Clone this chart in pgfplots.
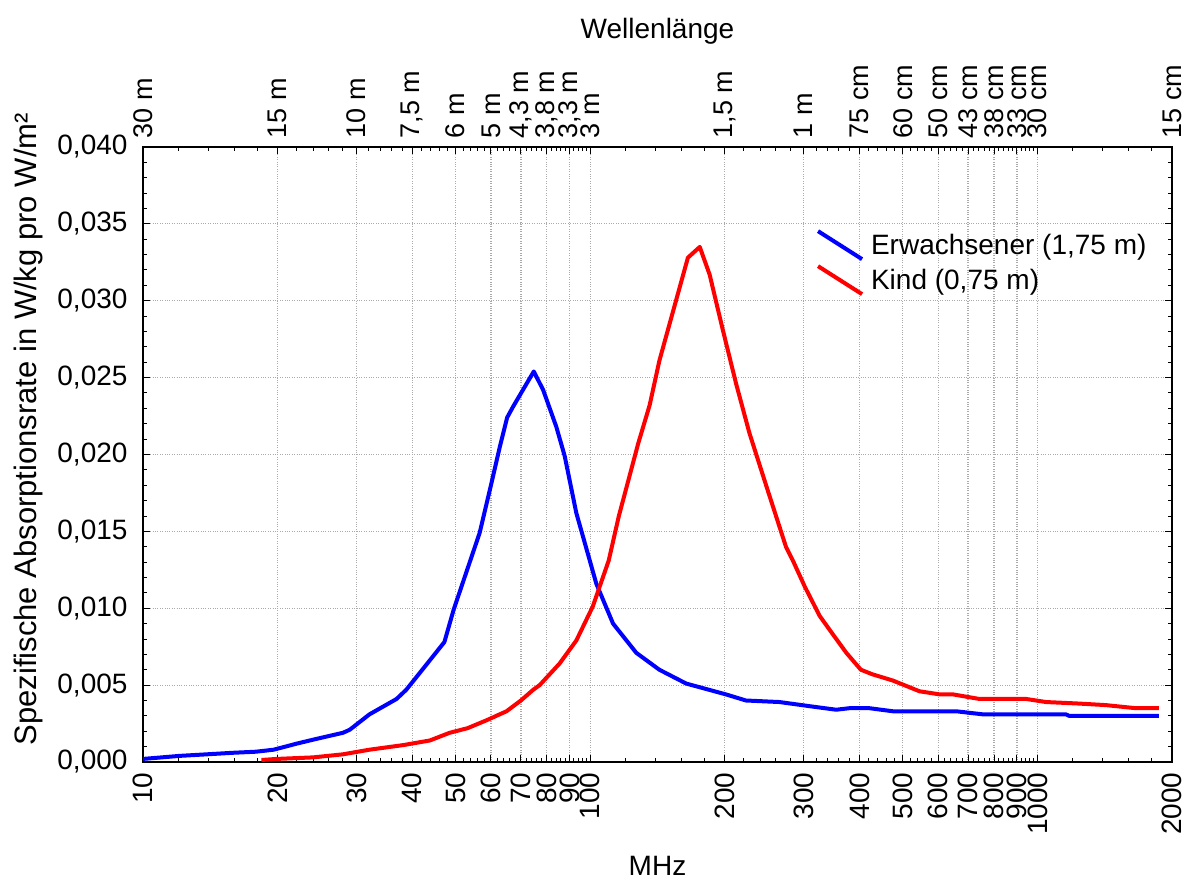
\documentclass[border=0pt]{standalone}
\usepackage{fontspec}
\setmainfont{Liberation Sans}
\usepackage{pgfplots}
\pgfplotsset{compat=1.18}
\definecolor{gridgray}{RGB}{170,170,170}
\begin{document}
\begin{tikzpicture}[font=\fontsize{28}{33}\selectfont]
\useasboundingbox (-143pt,-119pt) rectangle (1043pt,762pt);
\begin{axis}[
  at={(0pt,0pt)}, anchor=south west,
  scale only axis, width=1029pt, height=615pt,
  xmode=log, xmin=10, xmax=2000, ymin=0, ymax=0.04,
  xtick={10,20,30,40,50,60,70,80,90,100,200,300,400,500,600,700,800,900,1000,2000},
  xticklabels={10,20,30,40,50,60,70,80,90,100,200,300,400,500,600,700,800,900,1000,2000},
  minor xtick={12,14,16,18,22,24,26,28,32,34,36,38,42,44,46,48,52,54,56,58,62,64,66,68,72,74,76,78,82,84,86,88,92,94,96,98,120,140,160,180,220,240,260,280,320,340,360,380,420,440,460,480,520,540,560,580,620,640,660,680,720,740,760,780,820,840,860,880,920,940,960,980,1200,1400,1600,1800},
  xticklabel style={rotate=90, anchor=east, font=\fontsize{28}{33}\selectfont},
  xticklabel shift=7pt,
  ytick={0,0.005,0.01,0.015,0.02,0.025,0.03,0.035,0.04},
  minor y tick num=4,
  scaled y ticks=false,
  yticklabel style={/pgf/number format/fixed, /pgf/number format/fixed zerofill, /pgf/number format/precision=3, /pgf/number format/use comma, /pgf/number format/assume math mode=true, font=\fontsize{28}{33}\selectfont},
  yticklabel shift=12pt,
  major tick length=7pt, minor tick length=4pt,
  tick style={black, line width=1pt},
  axis line style={black, line width=1.5pt},
  grid=major,
  major grid style={dotted, gridgray, line width=1.2pt},
  xlabel={MHz},
  xlabel style={at={(rel axis cs:0.5,0)}, yshift=-104pt, anchor=center, inner sep=0pt},
  ylabel={Spezifische Absorptionsrate in W/kg pro W/m²},
  ylabel style={at={(rel axis cs:0,0.541)}, yshift=115pt, anchor=center, font=\fontsize{31}{36}\selectfont},
  legend style={draw=none, fill=none, at={(rel axis cs:0.651,0.870)}, anchor=north west, row sep=3pt, column sep=5pt},
  legend cell align=left,
  legend image code/.code={\draw[#1] (0pt,14pt) -- (44pt,-14pt);},
]
\addplot[blue, line width=4pt, line join=round] coordinates {
(10,0.0002) (12.1,0.0004) (13.9,0.0005) (15.9,0.0006) (17.9,0.00067) (19.6,0.0008)
(22.1,0.0012) (24.4,0.0015) (28.0,0.0019) (29.0,0.0021) (32.1,0.0031) (36.9,0.0041)
(38.8,0.0047) (41.6,0.0058) (47.2,0.0078) (49.5,0.0099) (56.6,0.0149) (60.1,0.0181)
(62.8,0.0205) (65.2,0.0224) (67.2,0.0231) (74.8,0.0254) (78.5,0.0242) (84.0,0.0218)
(87.7,0.0199) (93.1,0.0162) (103.2,0.0116) (112.5,0.0090) (126.8,0.0071) (142.8,0.0060)
(164,0.0051) (201,0.0044) (223,0.0040) (265,0.0039) (315,0.0036) (355,0.0034)
(380,0.0035) (421,0.0035) (475,0.0033) (658,0.0033) (755,0.0031) (1158,0.0031)
(1178,0.0030) (1870,0.0030)
};
\addlegendentry{Erwachsener (1,75 m)}
\addplot[red, line width=4pt, line join=round] coordinates {
(18.4,0.00013) (19.9,0.0002) (24.0,0.0003) (28.0,0.0005) (32.1,0.0008) (38.2,0.0011)
(43.8,0.0014) (48.5,0.0019) (53.2,0.0022) (58.5,0.0027) (65,0.0033) (70,0.0040)
(74.6,0.0047) (77.1,0.0050) (85.4,0.0064) (93.1,0.0079) (101.3,0.0101) (110,0.0131)
(115.9,0.0160) (128,0.0207) (135.8,0.0232) (142.8,0.0261) (165.4,0.0328) (175.8,0.0335)
(185,0.0317) (198,0.0281) (212,0.0246) (227,0.0214) (248,0.0179) (274,0.0140)
(284,0.0131) (302,0.0114) (326,0.0095) (349,0.0083) (374,0.0071) (403,0.0060)
(428,0.0057) (475,0.0053) (545,0.0046) (604,0.0044) (647,0.0044) (742,0.0041)
(944,0.0041) (1046,0.0039) (1241,0.0038) (1423,0.0037) (1659,0.0035) (1870,0.0035)
};
\addlegendentry{Kind (0,75 m)}
\end{axis}
\begin{axis}[
  at={(0pt,0pt)}, anchor=south west,
  scale only axis, width=1029pt, height=615pt,
  xmode=log, xmin=10, xmax=2000, ymin=0, ymax=0.04,
  axis x line*=top, hide y axis,
  axis line style={black, line width=1.5pt},
  xtick={10,20,30,40,50,60,70,80,90,100,200,300,400,500,600,700,800,900,1000,2000},
  xticklabels={30 m,15 m,10 m,{7,5 m},6 m,5 m,{4,3 m},{3,8 m},{3,3 m},3 m,{1,5 m},1 m,75 cm,60 cm,50 cm,43 cm,38 cm,33 cm,30 cm,15 cm},
  minor xtick={},
  major tick length=0pt,
  xticklabel style={rotate=90, anchor=west, font=\fontsize{27}{32}\selectfont},
  xticklabel shift=5pt,
  xlabel={Wellenlänge},
  xlabel style={at={(rel axis cs:0.5,1)}, yshift=116pt, anchor=center},
]
\end{axis}
\end{tikzpicture}
\end{document}
